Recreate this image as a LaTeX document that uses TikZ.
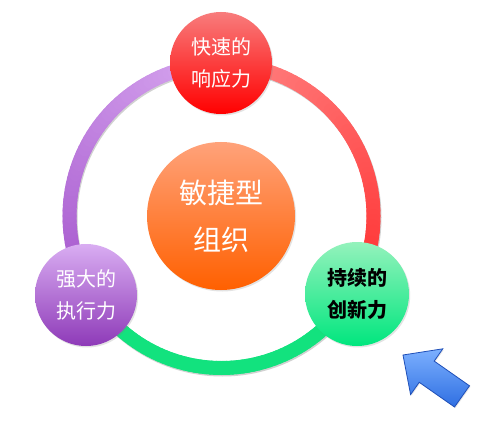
\documentclass[tikz,border=0pt]{standalone}
\usepackage{fontspec}
\newfontfamily\cjk{Noto Sans CJK SC}
\usetikzlibrary{shadows}
\definecolor{ringRedA}{HTML}{FF3030}
\definecolor{ringRedB}{HTML}{FF8585}
\definecolor{ringGreen}{HTML}{12E27E}
\definecolor{ringPurA}{HTML}{D8A8F0}
\definecolor{ringPurB}{HTML}{A455CC}
\definecolor{topA}{HTML}{F87C7C}
\definecolor{topB}{HTML}{FF0000}
\definecolor{leftA}{HTML}{D9ADF2}
\definecolor{leftB}{HTML}{8E3AB8}
\definecolor{rightA}{HTML}{94F2BC}
\definecolor{rightB}{HTML}{00E67E}
\definecolor{midA}{HTML}{FFA27A}
\definecolor{midB}{HTML}{FF6000}
\definecolor{arrA}{HTML}{7CB0FF}
\definecolor{arrB}{HTML}{2F6FE2}
\definecolor{arrLine}{HTML}{1F4FB8}
\tikzset{
  bubble/.style={circle, draw=none, align=center, inner sep=0pt,
    drop shadow={opacity=0.22, shadow xshift=1.2pt, shadow yshift=-1.5pt}},
  smalltext/.style={font=\cjk\fontsize{20}{32}\selectfont},
  bigtext/.style={font=\cjk\fontsize{28}{47}\selectfont},
  ringseg/.style={line width=14pt, line cap=round}
}
\begin{document}
\begin{tikzpicture}[x=1pt,y=-1pt]
\useasboundingbox (0,0) rectangle (482,425);
\fill[white] (0,0) rectangle (482,425);
\def\cx{221.5}\def\cy{216}\def\R{152}
% ring shadow
\draw[line width=14pt, black, opacity=0.18] (\cx+1,\cy+1.5) circle[radius=\R pt];
% red arc: 90 -> -30
\foreach \a in {90,88,...,-28}{
  \pgfmathsetmacro\p{(\a+30)/120*100}
  \draw[ringseg, color={ringRedB!\p!ringRedA}]
    ({\cx+\R*cos(\a)},{\cy-\R*sin(\a)}) -- ({\cx+\R*cos(\a-2)},{\cy-\R*sin(\a-2)});
}
% green arc: -30 -> -150
\foreach \a in {-30,-32,...,-148}{
  \draw[ringseg, color=ringGreen]
    ({\cx+\R*cos(\a)},{\cy-\R*sin(\a)}) -- ({\cx+\R*cos(\a-2)},{\cy-\R*sin(\a-2)});
}
% purple arc: 210 -> 90
\foreach \a in {210,208,...,92}{
  \pgfmathsetmacro\p{(\a-90)/120*100}
  \draw[ringseg, color={ringPurB!\p!ringPurA}]
    ({\cx+\R*cos(\a)},{\cy-\R*sin(\a)}) -- ({\cx+\R*cos(\a-2)},{\cy-\R*sin(\a-2)});
}
% bubbles
\node[bubble, minimum size=102pt, top color=topA, bottom color=topB, text=white, smalltext]
  (speed) at (221,63) {快速的\\响应力};
\node[bubble, minimum size=102pt, top color=leftA, bottom color=leftB, text=white, smalltext]
  (exec) at (86,295) {强大的\\执行力};
\node[bubble, minimum size=104pt, top color=rightA, bottom color=rightB, text=black, smalltext]
  (innov) at (357,294) {\bfseries 持续的\\\bfseries 创新力};
\node[bubble, minimum size=148pt, top color=midA, bottom color=midB, text=white, bigtext]
  (agile) at (221,216) {敏捷型\\组织};
% arrow
\draw[arrLine, line width=0.8pt, line join=miter, top color=arrA, bottom color=arrB,
  drop shadow={opacity=0.2, shadow xshift=1pt, shadow yshift=-1pt}]
  (403,355) -- (442.8,348.8) -- (434.2,361.1) -- (469.5,385.8) -- (454.5,407)
  -- (419.2,382.3) -- (410.6,394.6) -- cycle;
\end{tikzpicture}
\end{document}
